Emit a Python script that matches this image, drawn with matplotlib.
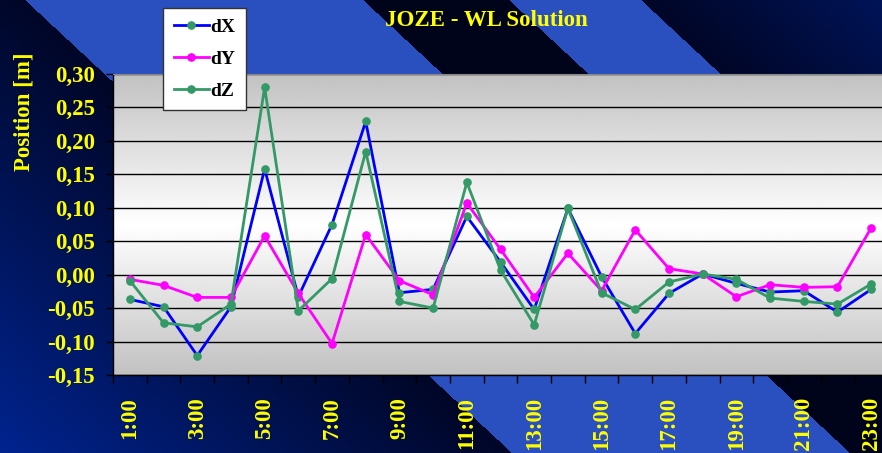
import numpy as np
import matplotlib
matplotlib.use('Agg')
import matplotlib.pyplot as plt

# hourly solution offsets [m]
hours = [f"{h}:00" for h in range(1, 24)]
dX = [-0.037, -0.048, -0.121, -0.048, 0.158, -0.033, 0.075, 0.229, -0.027, -0.022, 0.087, 0.019,
      -0.052, 0.099, -0.003, -0.088, -0.028, 0.001, -0.013, -0.026, -0.024, -0.056, -0.022]
dY = [-0.007, -0.016, -0.034, -0.034, 0.058, -0.028, -0.103, 0.060, -0.009, -0.030, 0.107, 0.038,
      -0.034, 0.032, -0.024, 0.067, 0.009, 0.001, -0.033, -0.015, -0.019, -0.018, 0.070]
dZ = [-0.009, -0.072, -0.078, -0.044, 0.280, -0.054, -0.006, 0.184, -0.040, -0.050, 0.138, 0.007,
      -0.075, 0.099, -0.027, -0.052, -0.011, 0.001, -0.007, -0.035, -0.040, -0.044, -0.014]
yticks = [-0.15, -0.10, -0.05, 0.00, 0.05, 0.10, 0.15, 0.20, 0.25, 0.30]

W, H = 882, 453
FONT = 'Liberation Serif'
YEL = '#ffff00'

fig = plt.figure(figsize=(W / 100, H / 100), dpi=100)

# slide-like background: diagonal stripes over dark blue gradient
xx, yy = np.meshgrid(np.arange(W) + 0.5, np.arange(H) + 0.5)
s = xx - 1.075 * yy
dist = np.where(s < 25, 25 - s, s - 641)
f = np.clip(dist / 520.0, 0, 1)[..., None]
dark = np.array([0, 6, 38]) / 255
bright = np.array([0, 36, 145]) / 255
img = dark + f * (bright - dark)
light = np.array([42, 79, 190]) / 255
black = np.array([0, 4, 26]) / 255
img[(s >= 25) & (s < 363)] = light
img[(s >= 363) & (s < 509)] = black
img[(s >= 509) & (s < 641)] = light
bg = fig.add_axes([0, 0, 1, 1], zorder=-1)
bg.imshow(img, aspect='auto', extent=(0, W, H, 0), interpolation='nearest')
bg.axis('off')

left, right, top, bottom = 113, 888, 74, 375
ax = fig.add_axes([left / W, 1 - bottom / H, (right - left) / W, (bottom - top) / H])
ax.set_facecolor('none')

# gray -> white -> gray plot area
g = np.linspace(0, 1, 200)
shade = 0.76 + 0.24 * (1 - np.abs(2 * g - 1))
ax.imshow(shade[:, None], cmap='gray', vmin=0, vmax=1, aspect='auto',
          extent=(0.5, 23.5, -0.15, 0.30), zorder=0)

x = np.arange(1, 24)
ax.plot(x, dX, color='#0000ff', lw=2.0, marker='o', ms=5.2, mfc='#339966', mec='#339966', label='dX')
ax.plot(x, dY, color='#ff00ff', lw=2.0, marker='o', ms=5.2, mfc='#ff00ff', mec='#ff00ff', label='dY')
ax.plot(x, dZ, color='#339966', lw=2.0, marker='o', ms=5.2, mfc='#339966', mec='#339966', label='dZ')

ax.set_xlim(0.5, 23.5)
ax.set_ylim(-0.15, 0.30)
ax.set_yticks(yticks)
ax.set_yticklabels([f"{v:.2f}".replace('.', ',') for v in yticks])
ax.set_axisbelow(True)
ax.yaxis.grid(True, color='black', lw=1)

ax.set_xticks(x[::2])
ax.set_xticklabels(hours[::2], rotation=90)
ax.set_xticks(np.arange(0.5, 24, 1), minor=True)
ax.tick_params(axis='x', which='major', length=0, pad=16)
ax.tick_params(axis='x', which='minor', length=5.8, width=1, color='black', direction='out')
ax.tick_params(axis='y', length=5, width=1, color='black', direction='out', pad=8)
for lab in ax.get_xticklabels() + ax.get_yticklabels():
    lab.set_fontfamily(FONT)
    lab.set_fontweight('bold')
    lab.set_fontsize(16.5)
    lab.set_color(YEL)

for sp in ['left', 'bottom']:
    ax.spines[sp].set_color('black')
    ax.spines[sp].set_linewidth(1)
ax.spines['top'].set_color('#888888')
ax.spines['right'].set_visible(False)

fig.text(486 / W, 1 - 20 / H, 'JOZE - WL Solution', ha='center', va='center',
         color=YEL, fontsize=16.5, fontweight='bold', family=FONT)
fig.text(24 / W, 1 - 112 / H, 'Position [m]', ha='center', va='center', rotation=90,
         color=YEL, fontsize=16.5, fontweight='bold', family=FONT)

leg = fig.legend(loc='upper left', bbox_to_anchor=(163 / W, 1 - 8 / H), borderaxespad=0,
                 frameon=True, fancybox=False, framealpha=1, facecolor='white', edgecolor='#333333',
                 handlelength=1.8, handletextpad=0.1, labelspacing=0.72, borderpad=0.55,
                 prop={'family': FONT, 'weight': 'bold', 'size': 14})

fig.savefig('out.png', dpi=100)
